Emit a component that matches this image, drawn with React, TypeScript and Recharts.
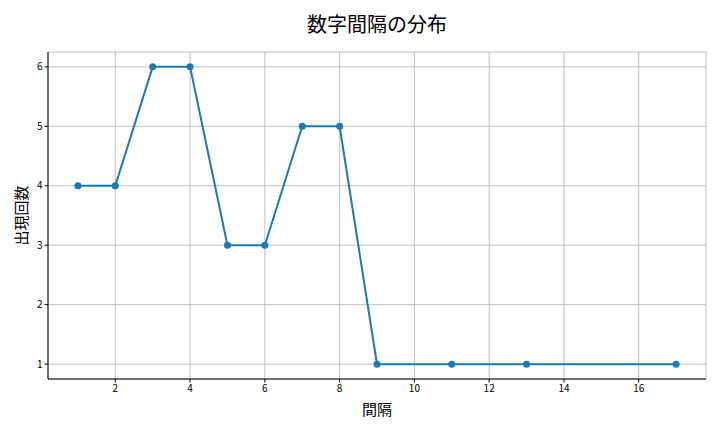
import React from "react";
import { LineChart, Line, XAxis, YAxis, CartesianGrid, Label } from "recharts";

const gaps = [1, 2, 3, 4, 5, 6, 7, 8, 9, 11, 13, 17];
const counts = [4, 4, 6, 6, 3, 3, 5, 5, 1, 1, 1, 1];
const xTicks = [2, 4, 6, 8, 10, 12, 14, 16];
const yTicks = [1, 2, 3, 4, 5, 6];

const data = gaps.map((g, i) => ({ gap: g, count: counts[i] }));

const font = "'Noto Sans CJK JP', 'Noto Sans', sans-serif";

function App() {
  return (
    <div style={{ position: "absolute", left: 0, top: 0, width: 720, height: 432, fontFamily: font }}>
      <div
        style={{
          position: "absolute",
          left: 0,
          width: 754,
          top: 9,
          textAlign: "center",
          fontSize: 20,
          color: "#000",
          lineHeight: "30px",
        }}
      >
        数字間隔の分布
      </div>
      <LineChart
        width={720}
        height={432}
        data={data}
        margin={{ top: 52, right: 14, bottom: 33, left: 18 }}
      >
        <CartesianGrid stroke="#b0b0b0" strokeWidth={0.8} />
        <XAxis
          dataKey="gap"
          type="number"
          domain={[0.2, 17.8]}
          ticks={xTicks}
          height={20}
          stroke="#000"
          tickLine={{ stroke: "#000" }}
          tickSize={3.5}
          tick={{ fontSize: 10, fill: "#000", fontFamily: font }}
        >
          <Label value="間隔" position="insideBottom" offset={-16} style={{ fontSize: 15, fill: "#000", fontFamily: font }} />
        </XAxis>
        <XAxis xAxisId="top" dataKey="gap" type="number" domain={[0.2, 17.8]} orientation="top" height={0} tick={false} tickLine={false} stroke="#000" />
        <YAxis
          dataKey="count"
          type="number"
          domain={[0.75, 6.25]}
          ticks={yTicks}
          width={30}
          stroke="#000"
          tickLine={{ stroke: "#000" }}
          tickSize={3.5}
          tick={{ fontSize: 10, fill: "#000", fontFamily: font }}
        >
          <Label value="出現回数" angle={-90} position="insideLeft" offset={4} style={{ fontSize: 15, fill: "#000", fontFamily: font, textAnchor: "middle" }} />
        </YAxis>
        <YAxis yAxisId="right" orientation="right" domain={[0.75, 6.25]} width={0} tick={false} tickLine={false} stroke="#000" />
        <Line
          dataKey="count"
          stroke="#1f77b4"
          strokeWidth={2}
          dot={{ r: 3.5, fill: "#1f77b4", stroke: "#1f77b4", strokeWidth: 0 }}
          activeDot={false}
          isAnimationActive={false}
        />
      </LineChart>
    </div>
  );
}

export default App;
